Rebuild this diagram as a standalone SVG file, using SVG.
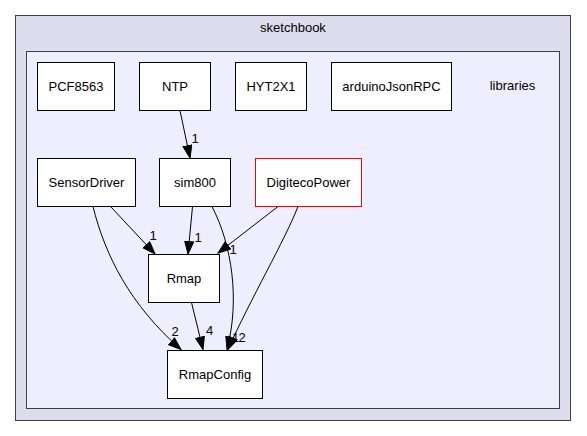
<svg xmlns="http://www.w3.org/2000/svg" width="587" height="436" viewBox="0 0 587 436">
<style>
text{font-family:"Liberation Sans",Arial,sans-serif;font-size:13px;fill:#000;text-anchor:middle}
.box{fill:#fff;stroke:#000;stroke-width:1}
.edge{fill:none;stroke:#000;stroke-width:1;marker-end:url(#arr)}
</style>
<defs>
<marker id="arr" markerUnits="userSpaceOnUse" markerWidth="14" markerHeight="11" refX="13" refY="5" orient="auto">
<path d="M0.5,0.5 L13,5 L0.5,9.5 z" fill="#000" stroke="#000" stroke-width="1"/>
</marker>
</defs>
<rect x="0" y="0" width="587" height="436" fill="#fff"/>
<g id="cluster_sketchbook">
<rect x="15.5" y="15.5" width="555" height="405" fill="#ddddee" stroke="#404040"/>
<text x="293" y="32">sketchbook</text>
</g>
<g id="cluster_libraries">
<rect x="26.5" y="51.5" width="533" height="357" fill="#eeeeff" stroke="#404040"/>
<text x="512.5" y="90">libraries</text>
</g>
<g id="edges">
<path class="edge" d="M180,110.5 L190,158"/>
<text x="195" y="142.5">1</text>
<path class="edge" d="M110.5,206.5 L155,254"/>
<text x="153" y="239.5">1</text>
<path class="edge" d="M192.5,206.5 L188,254"/>
<text x="198" y="241.5">1</text>
<path class="edge" d="M278,206.5 L218,253"/>
<text x="233" y="253.5">1</text>
<path class="edge" d="M212,206.5 C232,245 240,300 227,349.5"/>
<text x="235.5" y="341.5">1</text>
<path class="edge" d="M298,206.5 C285,240 250,300 228,349.5"/>
<text x="242" y="341.5">2</text>
<path class="edge" d="M93,206.5 C105,255 130,305 181,349.5"/>
<text x="175" y="335.5">2</text>
<path class="edge" d="M191.5,302.5 L203,349.5"/>
<text x="209.5" y="334.5">4</text>
</g>
<g id="node_PCF8563">
<rect class="box" x="37.5" y="62.5" width="77" height="48"/>
<text x="76" y="91">PCF8563</text>
</g>
<g id="node_NTP">
<rect class="box" x="139.5" y="62.5" width="71" height="48"/>
<text x="175" y="91">NTP</text>
</g>
<g id="node_HYT2X1">
<rect class="box" x="235.5" y="62.5" width="71" height="48"/>
<text x="271" y="91">HYT2X1</text>
</g>
<g id="node_arduinoJsonRPC">
<rect class="box" x="331.5" y="62.5" width="120" height="48"/>
<text x="391.5" y="91">arduinoJsonRPC</text>
</g>
<g id="node_SensorDriver">
<rect class="box" x="37.5" y="158.5" width="98" height="48"/>
<text x="86.5" y="187">SensorDriver</text>
</g>
<g id="node_sim800">
<rect class="box" x="159.5" y="158.5" width="71" height="48"/>
<text x="195" y="187">sim800</text>
</g>
<g id="node_DigitecoPower">
<rect class="box" x="255.5" y="158.5" width="106" height="48" style="stroke:#ff0000"/>
<text x="308.5" y="187">DigitecoPower</text>
</g>
<g id="node_Rmap">
<rect class="box" x="148.5" y="254.5" width="71" height="48"/>
<text x="184" y="283">Rmap</text>
</g>
<g id="node_RmapConfig">
<rect class="box" x="167.5" y="350.5" width="95" height="48"/>
<text x="215" y="379">RmapConfig</text>
</g>
</svg>
